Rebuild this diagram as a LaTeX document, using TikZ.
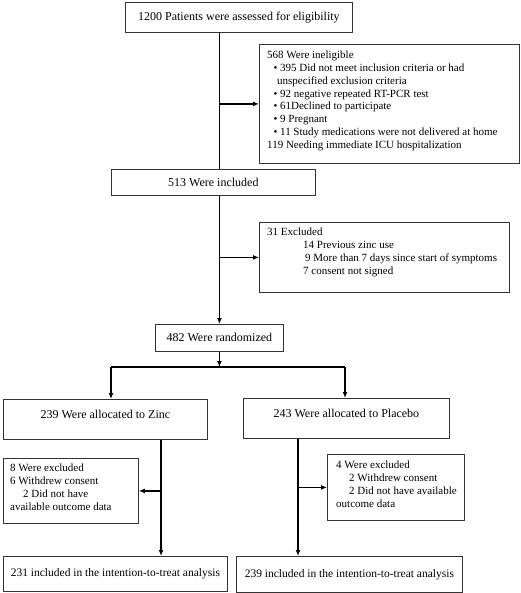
\documentclass[tikz,border=0pt]{standalone}
\usepackage{fontspec}
\setmainfont{Liberation Serif}
\usetikzlibrary{arrows.meta}
\tikzset{
  box/.style={draw=black!80, line width=0.8pt, inner sep=0pt, anchor=north west},
  bigtxt/.style={font=\fontsize{12}{13}\selectfont},
  midtxt/.style={font=\fontsize{11.5}{13}\selectfont},
  smalltxt/.style={font=\fontsize{11}{12.9}\selectfont, align=left, inner sep=0pt, anchor=north west},
  conn/.style={line width=1.6pt, black},
  arr/.style={conn, -{Latex[length=6pt,width=5pt]}}
}
\begin{document}
\begin{tikzpicture}[x=1pt,y=-1pt]
\useasboundingbox (0,0) rectangle (520,593);

% main column boxes
\node[box, bigtxt, minimum width=227pt, minimum height=30pt] (b1200) at (125,2) {1200 Patients were assessed for eligibility};
\node[box, bigtxt, minimum width=204pt, minimum height=26pt] (b513) at (111,169) {513 Were included};
\node[box, bigtxt, minimum width=128pt, minimum height=27pt] (b482) at (155,324) {482 Were randomized};

% side boxes (top)
\node[box, minimum width=260pt, minimum height=119pt] (inel) at (259,44) {};
\node[smalltxt] (ineltxt) at (267,50.5) {568 Were ineligible\\
\hspace*{6.5pt}\textbullet\hspace{2.6pt}395 Did not meet inclusion criteria or had\\
\hspace*{10pt}unspecified exclusion criteria\\
\hspace*{6.5pt}\textbullet\hspace{2.6pt}92 negative repeated RT-PCR test\\
\hspace*{6.5pt}\textbullet\hspace{2.6pt}61Declined to participate\\
\hspace*{6.5pt}\textbullet\hspace{2.6pt}9 Pregnant\\
\hspace*{6.5pt}\textbullet\hspace{2.6pt}11 Study medications were not delivered at home\\
119 Needing immediate ICU hospitalization};

\node[box, minimum width=250pt, minimum height=70pt] (excl) at (259,222) {};
\node[smalltxt] (excltxt) at (267,227.5) {31 Excluded\\
\hspace*{36pt}14 Previous zinc use\\
\hspace*{38pt}9 More than 7 days since start of symptoms\\
\hspace*{36pt}7 consent not signed};

% arms
\node[box, bigtxt, minimum width=204pt, minimum height=40pt, text height=8pt, text depth=9pt] (zinc) at (3,399) {239 Were allocated to Zinc};
\node[box, bigtxt, minimum width=206pt, minimum height=40pt, text height=8pt, text depth=9pt] (plac) at (243,398) {243 Were allocated to Placebo};

\node[box, minimum width=135pt, minimum height=65pt] (zexc) at (3,458) {};
\node[smalltxt] (zexctxt) at (10,463.5) {8 Were excluded\\
6 Withdrew consent\\
\hspace*{13pt}2 Did not have\\
available outcome data};

\node[box, minimum width=137pt, minimum height=66pt] (pexc) at (327,454) {};
\node[smalltxt] (pexctxt) at (336,460.5) {4 Were excluded\\
\hspace*{13pt}2 Withdrew consent\\
\hspace*{13pt}2 Did not have available\\
outcome data};

\node[box, midtxt, minimum width=224pt, minimum height=35pt] (b231) at (3,556) {231 included in the intention-to-treat analysis};
\node[box, midtxt, minimum width=226pt, minimum height=36pt] (b239) at (236,556) {239 included in the intention-to-treat analysis};

% helper coordinates
\coordinate (spl) at (111,367);
\coordinate (spr) at (345,367);
\coordinate (zx) at (161,0);
\coordinate (px) at (298,0);

% connectors: main spine
\draw[conn] (b1200.south -| b482.north) -- (b513.north -| b482.north);
\draw[arr] (inel.west -| b482.north) -- (inel.west);
\draw[arr] (b513.south -| b482.north) -- (b482.north);
\draw[arr] (excl.west -| b482.north) -- (excl.west);
\draw[arr] (b482.south) -- (b482.south |- spl);
\draw[conn] (spl) -- (spr);
\draw[arr] (spl) -- (spl |- zinc.north);
\draw[arr] (spr) -- (spr |- plac.north);

% zinc arm
\draw[arr] (zinc.south -| zx) -- (b231.north -| zx);
\draw[arr] (zexc.east -| zx) -- (zexc.east);
% placebo arm
\draw[arr] (plac.south -| px) -- (b239.north -| px);
\draw[arr] (pexc.west -| px) -- (pexc.west);
\end{tikzpicture}
\end{document}
